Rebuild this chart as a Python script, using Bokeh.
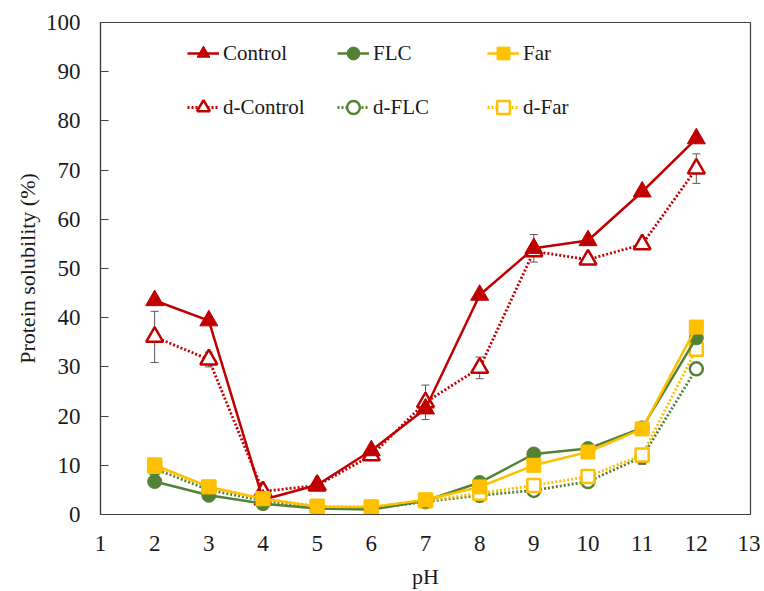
from bokeh.plotting import figure
from bokeh.models import (Range1d, SingleIntervalTicker, Legend, LegendItem,
                          Whisker, TeeHead, ColumnDataSource)
from bokeh.embed import file_html
from bokeh.resources import INLINE

# ---------------- data ----------------
ph = [2, 3, 4, 5, 6, 7, 8, 9, 10, 11, 12]
control = [43.5, 39.4, 3.0, 6.0, 13.0, 21.5, 44.6, 54.1, 55.7, 65.6, 76.4]
control_err = [0, 0, 0, 0, 0, 0, 0, 2.8, 0, 0, 0]
flc = [6.7, 3.9, 2.2, 1.2, 1.0, 2.8, 6.5, 12.3, 13.4, 17.6, 35.9]
flc_err = [0, 0, 0, 0, 0, 0, 0, 0, 0, 0, 0]
far = [10.1, 5.6, 3.2, 1.6, 1.5, 3.0, 5.6, 10.0, 12.7, 17.4, 38.1]
far_err = [0, 0, 0, 0, 0, 0, 0, 0, 0, 1.0, 0]
d_control = [36.1, 31.5, 4.7, 5.9, 12.0, 22.8, 29.8, 53.5, 51.8, 54.9, 70.3]
d_control_err = [5.2, 1.5, 0, 0, 0, 3.5, 2.2, 0, 0, 1.0, 3.0]
d_flc = [9.3, 5.0, 2.8, 1.4, 1.2, 2.6, 3.9, 4.9, 6.7, 11.7, 29.6]
d_flc_err = [0, 0, 0, 0, 0, 0, 0.6, 0.8, 1.0, 1.5, 1.0]
d_far = [9.8, 5.6, 3.2, 1.7, 1.5, 2.8, 4.3, 5.9, 7.7, 12.1, 33.6]
d_far_err = [0, 0, 0, 0, 0, 0, 0, 0, 0, 1.0, 1.0]

RED = "#C00000"
GREEN = "#548235"
YELLOW = "#FFC000"
FONT = "Liberation Serif"

p = figure(width=760, height=591, output_backend="svg", toolbar_location=None,
           x_range=Range1d(1, 13), y_range=Range1d(0, 100),
           min_border_left=100, min_border_right=10, min_border_top=22,
           min_border_bottom=77)
p.grid.visible = False
p.outline_line_color = "#404040"
p.outline_line_width = 1.2
p.background_fill_color = "white"
p.border_fill_color = "white"

# axes
p.xaxis.ticker = SingleIntervalTicker(interval=1)
p.yaxis.ticker = SingleIntervalTicker(interval=10)
for ax in (p.xaxis, p.yaxis):
    ax.axis_line_color = "#404040"
    ax.axis_line_width = 1.2
    ax.major_label_text_font = FONT
    ax.major_label_text_font_size = "23px"
    ax.major_label_text_color = "#1a1a1a"
    ax.axis_label_text_font = FONT
    ax.axis_label_text_font_size = "22px"
    ax.axis_label_text_font_style = "normal"
    ax.axis_label_text_color = "#1a1a1a"
    ax.minor_tick_line_color = None
p.xaxis.major_tick_line_color = None
p.xaxis.major_label_standoff = 15
p.xaxis.axis_label = "pH"
p.xaxis.axis_label_standoff = 10
p.yaxis.major_tick_in = 8
p.yaxis.major_tick_out = 0
p.yaxis.major_tick_line_color = "#404040"
p.yaxis.major_label_standoff = 16
p.yaxis.axis_label = "Protein solubility (%)"
p.yaxis.axis_label_standoff = 3

def add_series(y, color, marker, size, dashed):
    if dashed:
        ln = p.line(ph, y, line_color=color, line_width=2.8, line_dash="2 2")
        mk = p.scatter(ph, y, marker=marker, size=size, line_color=color,
                       line_width=2.5, fill_color="white")
    else:
        ln = p.line(ph, y, line_color=color, line_width=2.5)
        mk = p.scatter(ph, y, marker=marker, size=size, line_color=color,
                       line_width=1, fill_color=color)
    return [ln, mk]

def add_err(y, err):
    xs = [x for x, e in zip(ph, err) if e > 0]
    ys = [v for v, e in zip(y, err) if e > 0]
    es = [e for e in err if e > 0]
    if not xs:
        return
    src = ColumnDataSource(dict(x=xs, up=[v + e for v, e in zip(ys, es)],
                                lo=[v - e for v, e in zip(ys, es)]))
    w = Whisker(source=src, base="x", upper="up", lower="lo",
                line_color="#595959", line_width=1,
                upper_head=TeeHead(size=8, line_color="#595959", line_width=1),
                lower_head=TeeHead(size=8, line_color="#595959", line_width=1))
    p.add_layout(w)

r_dc = add_series(d_control, RED, "triangle", 17, True)
r_df = add_series(d_flc, GREEN, "circle", 13, True)
r_dfa = add_series(d_far, YELLOW, "square", 13, True)
r_c = add_series(control, RED, "triangle", 18, False)
r_f = add_series(flc, GREEN, "circle", 14, False)
r_fa = add_series(far, YELLOW, "square", 14, False)

for y, e in [(control, control_err), (flc, flc_err), (far, far_err),
             (d_control, d_control_err), (d_flc, d_flc_err), (d_far, d_far_err)]:
    add_err(y, e)

legend = Legend(items=[
    LegendItem(label="Control", renderers=r_c),
    LegendItem(label="FLC", renderers=r_f),
    LegendItem(label="Far", renderers=r_fa),
    LegendItem(label="d-Control", renderers=r_dc),
    LegendItem(label="d-FLC", renderers=r_df),
    LegendItem(label="d-Far", renderers=r_dfa),
], location=(87, 391), orientation="horizontal", ncols=3,
    glyph_width=32, glyph_height=32, label_standoff=4, label_width=92,
    spacing=22, padding=0, margin=0,
    label_text_font=FONT, label_text_font_size="21px", label_text_color="#1a1a1a",
    background_fill_alpha=0, border_line_color=None)
p.add_layout(legend, "center")

open("out.html", "w").write(file_html(p, INLINE))
